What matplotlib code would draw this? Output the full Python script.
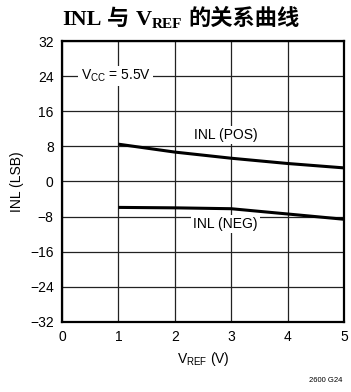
import numpy as np
import matplotlib
matplotlib.use('Agg')
import matplotlib.pyplot as plt

# INL vs reference voltage, Vcc = 5.5V
vref = [1, 2, 3, 4, 5]
inl_pos = [8.5, 6.7, 5.3, 4.1, 3.1]
inl_neg = [-5.9, -6.0, -6.2, -7.4, -8.6]

xticks = [0, 1, 2, 3, 4, 5]
yticks = [-32, -24, -16, -8, 0, 8, 16, 24, 32]

plt.rcParams['font.family'] = ['Liberation Sans', 'DejaVu Sans']
plt.rcParams['mathtext.fontset'] = 'custom'
plt.rcParams['mathtext.rm'] = 'Liberation Sans'
plt.rcParams['mathtext.it'] = 'Liberation Sans'

fig = plt.figure(figsize=(3.51, 3.92), dpi=100)
ax = fig.add_axes([0.1766, 0.1786, 0.8034, 0.7168])

ax.plot(vref, inl_pos, color='black', lw=2.2, solid_capstyle='butt')
ax.plot(vref, inl_neg, color='black', lw=2.2, solid_capstyle='butt')

ax.set_xlim(0, 5)
ax.set_ylim(-32, 32)
ax.set_xticks(xticks)
ax.set_yticks(yticks)
ax.set_yticklabels([str(v).replace('-', '\u2212') for v in yticks])
ax.tick_params(length=0, labelsize=10, pad=6)
ax.grid(True, color='#222222', lw=0.9)
for s in ax.spines.values():
    s.set_linewidth(1.6)

box = dict(facecolor='white', edgecolor='none', pad=1.5)
ax.text(0.95, 24, r'V$_{\mathrm{CC}}$ = 5.5V', ha='center', va='center',
        fontsize=10, bbox=box)
ax.text(2.9, 10.6, 'INL (POS)', ha='center', va='center', fontsize=10, bbox=box)
ax.text(2.9, -9.6, 'INL (NEG)', ha='center', va='center', fontsize=10, bbox=box)

ax.set_xlabel(r'V$_{\mathrm{REF}}$ (V)', fontsize=10, labelpad=4)
ax.set_ylabel('INL (LSB)', fontsize=10, labelpad=4)

# title in pieces: serif bold with CJK fallback, subscript REF
tfam = ['Liberation Serif', 'Noto Sans CJK SC']
renderer = fig.canvas.get_renderer()
x0, ybase = 62, 392 - 25
pieces = [('INL', 16, 0, 6), ('与', 16, 0, 6), ('V', 16, 0, 0),
          ('REF', 11, -3, 6), ('的关系曲线', 16, 0, 0)]
x = x0
for s, size, dy, gap in pieces:
    t = fig.text(x / 351, (ybase + dy) / 392, s, family=tfam, weight='bold',
                 fontsize=size, ha='left', va='baseline')
    x = t.get_window_extent(renderer).x1 + gap

fig.text(0.975, 0.03, '2600 G24', fontsize=5.5, ha='right', va='center')

fig.savefig('out.png', dpi=100)
